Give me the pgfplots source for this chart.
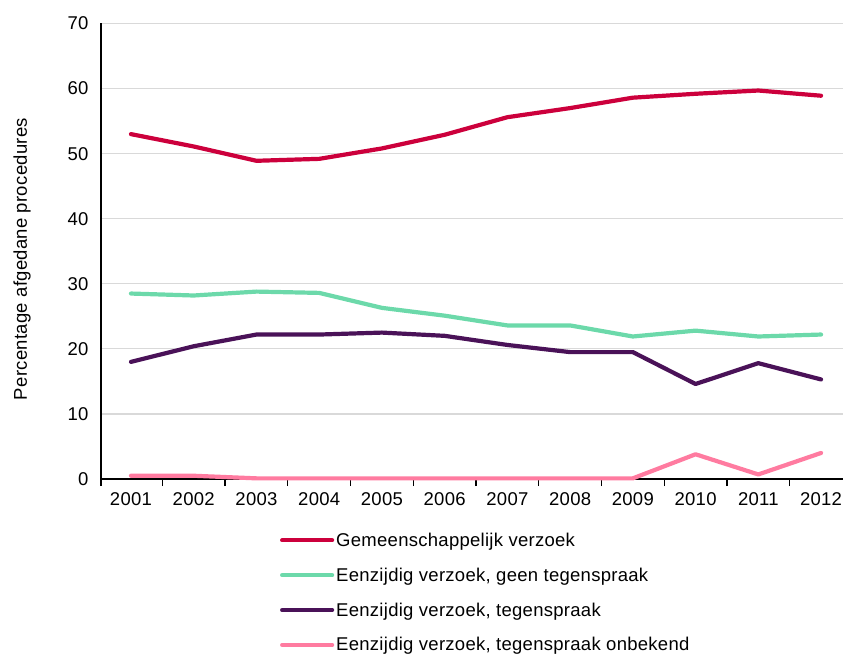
\documentclass[border=0pt]{standalone}
\usepackage{fontspec}
\setmainfont{Liberation Sans}[LetterSpace=1.5]
\usepackage{pgfplots}
\pgfplotsset{compat=1.18}
\definecolor{cRed}{RGB}{204,0,60}
\definecolor{cGreen}{RGB}{108,217,170}
\definecolor{cPurple}{RGB}{74,18,88}
\definecolor{cPink}{RGB}{255,123,160}
\definecolor{cGrid}{RGB}{217,217,217}
\newcommand{\chartfont}{\fontsize{18.5bp}{22bp}\selectfont}
\begin{document}
\begin{tikzpicture}
\path[use as bounding box] (-101bp,-181bp) rectangle (742bp,479bp);
\begin{axis}[
  at={(0,0)}, anchor=south west,
  scale only axis, width=742bp, height=455.5bp,
  xmin=-0.478, xmax=11.35, ymin=0, ymax=70,
  clip=false,
  axis lines*=left,
  axis line style={black, line width=1.3bp},
  xtick={0,...,11},
  xticklabels={2001,2002,2003,2004,2005,2006,2007,2008,2009,2010,2011,2012},
  minor xtick={-0.478,0.5,1.5,2.5,3.5,4.5,5.5,6.5,7.5,8.5,9.5,10.5},
  major tick length=0pt,
  minor tick length=7bp,
  tick align=outside,
  tick style={black, line width=1.2bp},
  ytick={0,10,...,70},
  ymajorgrids,
  grid style={cGrid, line width=1.2bp},
  /pgf/number format/assume math mode=true,
  tick label style={font=\chartfont},
  yticklabel style={anchor=east, xshift=-9bp},
  xticklabel style={anchor=north, yshift=-10bp},
  ylabel={Percentage afgedane procedures},
  label style={font=\chartfont},
  ylabel style={at={(axis description cs:-0.1065,0.483)}, anchor=center},
  legend style={at={(axis description cs:0.237,-0.109)}, anchor=north west,
    draw=none, fill=none, font=\chartfont, row sep=16bp,
    nodes={inner xsep=2bp}},
  legend cell align=left,
  legend image code/.code={\draw[#1] (0bp,0bp) -- (50bp,0bp);},
  every axis plot/.append style={line width=4.2bp, line cap=round, line join=round},
]
\addplot[cRed] coordinates {(0,53.0)(1,51.1)(2,48.9)(3,49.2)(4,50.8)(5,52.9)(6,55.6)(7,57.0)(8,58.6)(9,59.2)(10,59.7)(11,58.9)};
\addlegendentry{Gemeenschappelijk verzoek}
\addplot[cGreen] coordinates {(0,28.5)(1,28.2)(2,28.8)(3,28.6)(4,26.3)(5,25.1)(6,23.6)(7,23.6)(8,21.9)(9,22.8)(10,21.9)(11,22.2)};
\addlegendentry{Eenzijdig verzoek, geen tegenspraak}
\addplot[cPurple] coordinates {(0,18.0)(1,20.4)(2,22.2)(3,22.2)(4,22.5)(5,22.0)(6,20.6)(7,19.5)(8,19.5)(9,14.6)(10,17.8)(11,15.3)};
\addlegendentry{Eenzijdig verzoek, tegenspraak}
\addplot[cPink] coordinates {(0,0.5)(1,0.5)(2,0.1)(3,0.1)(4,0.1)(5,0.1)(6,0.1)(7,0.1)(8,0.1)(9,3.8)(10,0.7)(11,4.0)};
\addlegendentry{Eenzijdig verzoek, tegenspraak onbekend}
\end{axis}
\end{tikzpicture}
\end{document}
